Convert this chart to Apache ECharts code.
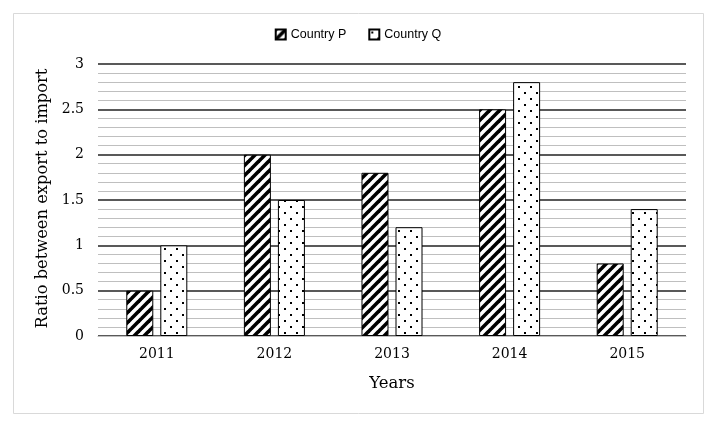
<!DOCTYPE html>
<html><head><meta charset="utf-8">
<script src="https://cdn.jsdelivr.net/npm/echarts@6/dist/echarts.min.js"></script>
<style>html,body{margin:0;padding:0;background:#fff}#c{width:716px;height:428px}</style>
</head><body><div id="c"></div>
<script>
var categories = ['2011', '2012', '2013', '2014', '2015'];
var countryP = [0.5, 2, 1.8, 2.5, 0.8];
var countryQ = [1, 1.5, 1.2, 2.8, 1.4];
var seriesNames = ['Country P', 'Country Q'];

function hatch() {
  var c = document.createElement('canvas'); c.width = 10; c.height = 10;
  var g = c.getContext('2d');
  g.fillStyle = '#fff'; g.fillRect(0, 0, 10, 10);
  g.strokeStyle = '#000'; g.lineWidth = 3.6;
  for (var k = -1; k <= 1; k++) {
    g.beginPath(); g.moveTo(k * 10 - 1, 11); g.lineTo(k * 10 + 11, -1); g.stroke();
  }
  return c;
}
function dots() {
  var c = document.createElement('canvas'); c.width = 12; c.height = 12;
  var g = c.getContext('2d');
  g.fillStyle = '#fff'; g.fillRect(0, 0, 12, 12);
  g.fillStyle = '#000';
  g.fillRect(2, 2, 2, 2); g.fillRect(8, 8, 2, 2);
  return c;
}
var font = 'DejaVu Serif';
var chart = echarts.init(document.getElementById('c'), null, {renderer: 'canvas'});
chart.setOption({
  animation: false,
  backgroundColor: '#fff',
  graphic: [{type: 'rect', shape: {x: 13.5, y: 13.5, width: 690, height: 400}, style: {fill: 'none', stroke: '#d9d9d9', lineWidth: 1}, silent: true}],
  legend: {
    top: 23, left: 'center', itemWidth: 10, itemHeight: 10, itemGap: 22,
    icon: 'rect',
    textStyle: {fontFamily: 'Liberation Sans', fontSize: 12.5, color: '#000'},
    data: seriesNames
  },
  grid: {left: 98, right: 30, top: 64, bottom: 92},
  xAxis: {
    type: 'category', data: categories,
    name: 'Years', nameLocation: 'middle', nameGap: 39,
    nameTextStyle: {fontFamily: font, fontSize: 16.5, color: '#000'},
    axisLine: {lineStyle: {color: '#bfbfbf', width: 1}},
    axisTick: {show: false},
    axisLabel: {fontFamily: font, fontSize: 14, color: '#000', margin: 11}
  },
  yAxis: {
    type: 'value', min: 0, max: 3, interval: 0.5,
    name: 'Ratio between export to import', nameLocation: 'middle', nameGap: 38,
    nameTextStyle: {fontFamily: font, fontSize: 16.3, color: '#000', padding: [0, 0, 0, 3]},
    axisLine: {show: false}, axisTick: {show: false},
    axisLabel: {fontFamily: font, fontSize: 14, color: '#000', margin: 14},
    splitLine: {lineStyle: {color: '#595959', width: 2}},
    minorTick: {show: false, splitNumber: 5},
    minorSplitLine: {show: true, lineStyle: {color: '#bfbfbf', width: 1}}
  },
  series: [
    {name: seriesNames[0], type: 'bar', data: countryP, barWidth: 27, barGap: '26%',
     itemStyle: {color: {image: hatch(), repeat: 'repeat'}, borderColor: '#000', borderWidth: 1}},
    {name: seriesNames[1], type: 'bar', data: countryQ, barWidth: 27,
     itemStyle: {color: {image: dots(), repeat: 'repeat'}, borderColor: '#000', borderWidth: 1}}
  ]
});
</script></body></html>
